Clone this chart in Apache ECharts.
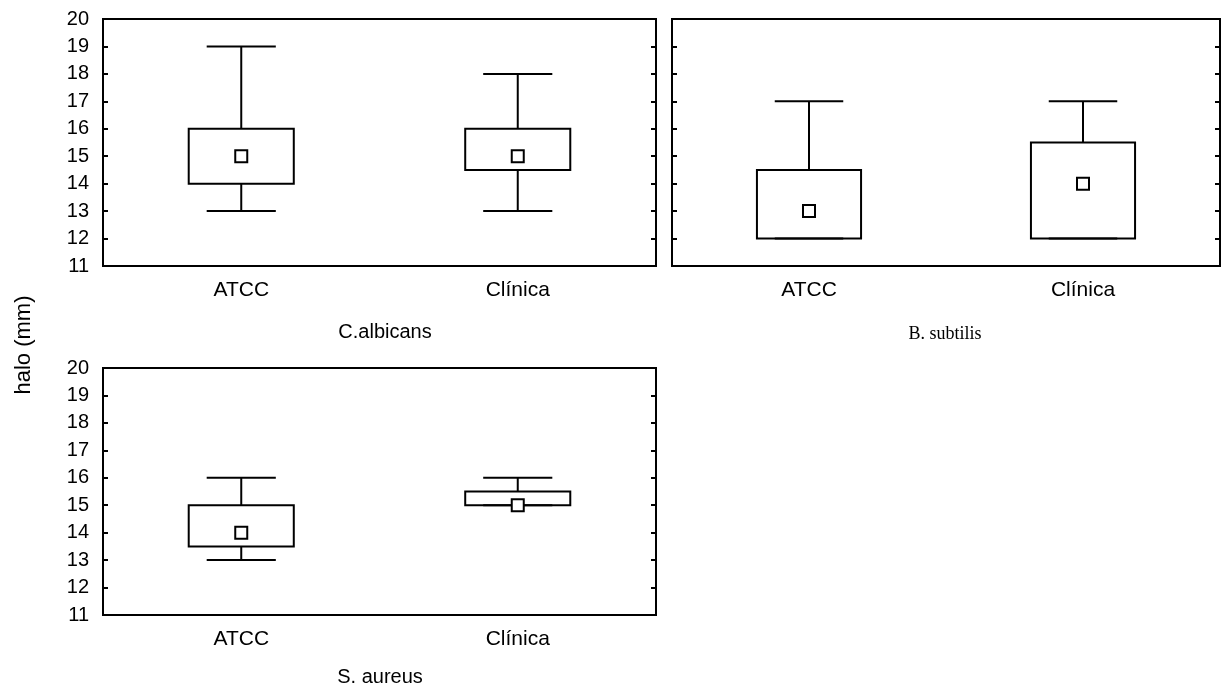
<!DOCTYPE html>
<html><head><meta charset="utf-8">
<script src="https://cdn.jsdelivr.net/npm/echarts@6/dist/echarts.min.js"></script>
<style>html,body{margin:0;padding:0;background:#fff}#c{width:1224px;height:691px}</style>
</head><body><div id="c"></div>
<script>
const categories = ['ATCC', 'Clínica'];
// [min, Q1, median, Q3, max]
const albicans = [[13, 14, 15, 16, 19], [13, 14.5, 15, 16, 18]];
const subtilis = [[12, 12, 13, 14.5, 17], [12, 12, 14, 15.5, 17]];
const aureus   = [[13, 13.5, 14, 15, 16], [15, 15, 15, 15.5, 16]];
const yMin = 11, yMax = 20, yStep = 1;
const panelTitles = ['C.albicans', 'B. subtilis', 'S. aureus'];
const yTitle = 'halo (mm)';

const chart = echarts.init(document.getElementById('c'));
const font = 'Arial, "Liberation Sans", sans-serif';
const grids = [
  {left: 103, top: 19, width: 553, height: 247},
  {left: 672, top: 19, width: 548, height: 247},
  {left: 103, top: 368, width: 553, height: 247}
];
const panels = [albicans, subtilis, aureus];

function renderItem(params, api) {
  const idx = api.value(0);
  const mn = api.value(1), q1 = api.value(2), md = api.value(3), q3 = api.value(4), mx = api.value(5);
  const band = api.size([1, 0])[0];
  const x = api.coord([idx, md])[0];
  const y = v => api.coord([idx, v])[1];
  const bw = band * 0.38, cw = band * 0.25, s = 12;
  const ls = {stroke: '#000', lineWidth: 2, fill: null};
  return {
    type: 'group',
    children: [
      {type: 'line', shape: {x1: x, y1: y(mx), x2: x, y2: y(q3)}, style: ls},
      {type: 'line', shape: {x1: x, y1: y(q1), x2: x, y2: y(mn)}, style: ls},
      {type: 'line', shape: {x1: x - cw / 2, y1: y(mx), x2: x + cw / 2, y2: y(mx)}, style: ls},
      {type: 'line', shape: {x1: x - cw / 2, y1: y(mn), x2: x + cw / 2, y2: y(mn)}, style: ls},
      {type: 'rect', shape: {x: x - bw / 2, y: y(q3), width: bw, height: y(q1) - y(q3)}, style: {stroke: '#000', lineWidth: 2, fill: 'rgba(0,0,0,0)'}},
      {type: 'rect', shape: {x: x - s / 2, y: y(md) - s / 2, width: s, height: s}, style: {stroke: '#000', lineWidth: 2, fill: '#fff'}}
    ]
  };
}

const xAxis = [], yAxis = [], series = [];
grids.forEach((g, i) => {
  g.show = true; g.borderColor = '#000'; g.borderWidth = 2; g.backgroundColor = '#fff';
  xAxis.push({
    type: 'category', gridIndex: i, data: categories,
    axisLine: {show: false}, axisTick: {show: false},
    axisLabel: {color: '#000', fontSize: 21, fontFamily: font, margin: 14}
  });
  yAxis.push({
    type: 'value', gridIndex: i, min: yMin, max: yMax, interval: yStep, position: 'left',
    axisLine: {show: false}, splitLine: {show: false},
    axisTick: {show: true, inside: true, length: 5, lineStyle: {color: '#000', width: 2}},
    axisLabel: {show: i !== 1, color: '#000', fontSize: 20, fontFamily: font, margin: 14}
  });
  yAxis.push({
    type: 'value', gridIndex: i, min: yMin, max: yMax, interval: yStep, position: 'right',
    axisLine: {show: false}, splitLine: {show: false},
    axisTick: {show: true, inside: true, length: 5, lineStyle: {color: '#000', width: 2}},
    axisLabel: {show: false}
  });
  series.push({
    type: 'custom', xAxisIndex: i, yAxisIndex: i * 2,
    data: panels[i].map((d, k) => [k].concat(d)),
    renderItem: renderItem, silent: true
  });
});

chart.setOption({
  animation: false,
  grid: grids, xAxis: xAxis, yAxis: yAxis, series: series,
  graphic: [
    {type: 'text', x: 385, y: 332, style: {text: panelTitles[0], font: '20px ' + font, fill: '#000', align: 'center', verticalAlign: 'middle'}},
    {type: 'text', x: 945, y: 334, style: {text: panelTitles[1], font: '18px "Liberation Serif", "Times New Roman", serif', fill: '#000', align: 'center', verticalAlign: 'middle'}},
    {type: 'text', x: 380, y: 677, style: {text: panelTitles[2], font: '20px ' + font, fill: '#000', align: 'center', verticalAlign: 'middle'}},
    {type: 'text', x: 24, y: 345, rotation: Math.PI / 2, style: {text: yTitle, font: '22px ' + font, fill: '#000', align: 'center', verticalAlign: 'middle'}}
  ]
});
</script></body></html>
